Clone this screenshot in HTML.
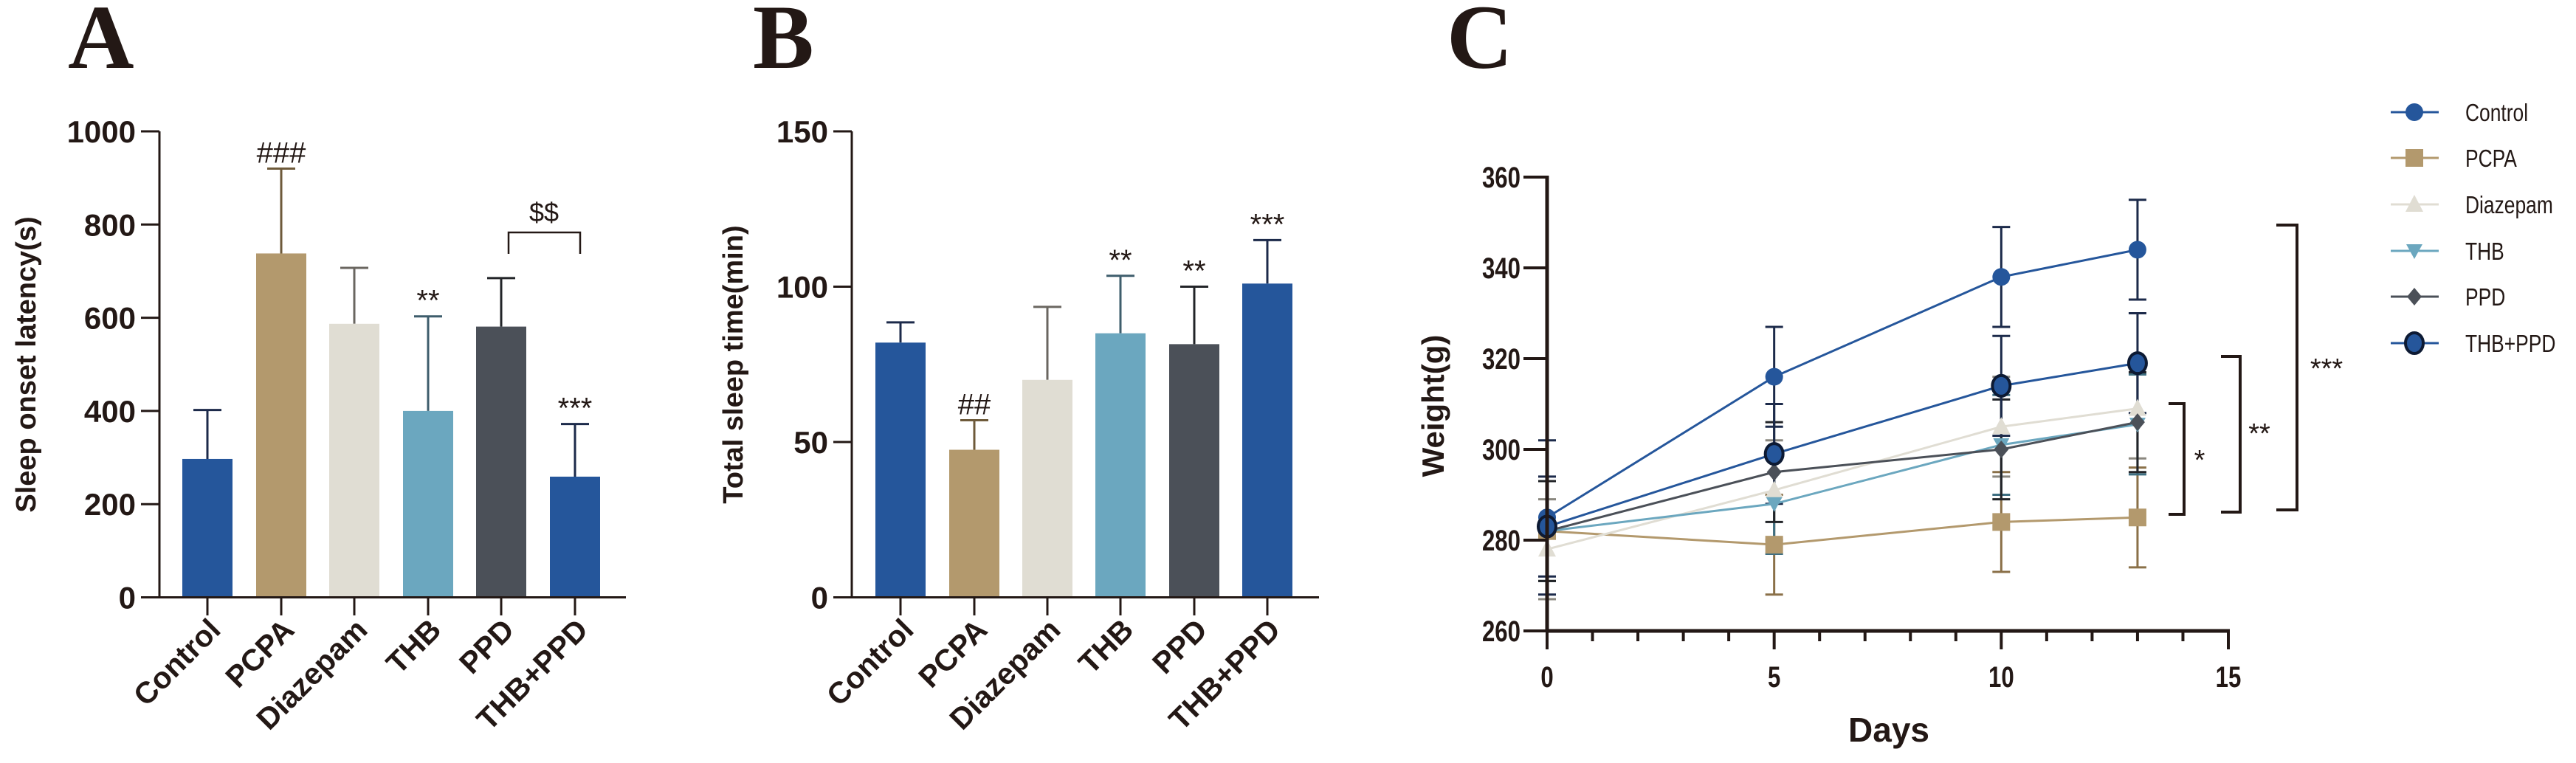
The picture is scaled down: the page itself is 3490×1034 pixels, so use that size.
<!DOCTYPE html>
<html><head><meta charset="utf-8"><style>
html,body{margin:0;padding:0;background:#fff}
svg{display:block;font-family:"Liberation Sans",Arial,sans-serif}
</style></head><body>
<svg id="fig" width="3490" height="1034" viewBox="0 0 3490 1034" xmlns="http://www.w3.org/2000/svg">
<g id="pA"></g>
<g id="pB"></g>
<g id="pC"></g>
</svg>
<script>
const groups = ["Control","PCPA","Diazepam","THB","PPD","THB+PPD"];
const colors = ["#25569b","#b3996d","#e0ddd3","#6ba7bf","#4b5058","#25569b"];
const errColors = ["#1c2a4a","#6e5a3a","#6a6660","#3e5d6c","#222428","#1c2a4a"];
const latencyVals = [297,738,587,400,581,259];
const latencyErr = [105,182,120,203,104,113];
const latencyTicks = [0,200,400,600,800,1000];
const latencyMarks = ["","###","","**","","***"];
const sleepVals = [82,47.5,70,85,81.5,101];
const sleepErr = [6.5,9.5,23.5,18.5,18.5,14];
const sleepTicks = [0,50,100,150];
const sleepMarks = ["","##","","**","**","***"];
const days = [0,5,10,13];
const dayTicks = [0,5,10,15];
const weightTicks = [260,280,300,320,340,360];
const seriesNames = ["Control","PCPA","Diazepam","THB","PPD","THB+PPD"];
const wControl = [285,316,338,344];
const wPCPA = [282,279,284,285];
const wDiazepam = [278,291,305,309];
const wTHB = [282,288,301,305.5];
const wPPD = [282,295,300,306];
const wCombo = [283,299,314,319];
const eControl = [17,11,11,11];
const ePCPA = [11,11,11,11];
const eDiazepam = [11,11,11,11];
const eTHB = [11,11,11,11];
const ePPD = [11,11,11,11];
const eCombo = [11,11,11,11];

const NS="http://www.w3.org/2000/svg";
function mk(parent,tag,attrs,text){const e=document.createElementNS(NS,tag);for(const k in attrs)e.setAttribute(k,attrs[k]);if(text!==undefined)e.textContent=text;parent.appendChild(e);return e;}

function barPanel(g,letter,lx,ax,xEnd,centers,vals,errs,ticks,marks,ymax,ylabel,ylx){
  const y0=809.5,yTop=178;
  const sy=v=>y0-(v/ymax)*(y0-yTop);
  let t=mk(g,"text",{x:lx,y:92,"font-family":"Liberation Serif,serif","font-weight":"bold","font-size":"124",fill:"#231815"},letter);
  
  
  vals.forEach((v,i)=>{
    const cx=centers[i];
    let el=mk(g,"line",{x1:cx,x2:cx,y1:sy(v),y2:sy(v+errs[i]),stroke:errColors[i],"stroke-width":3});
    
    
    mk(g,"line",{x1:cx-19,x2:cx+19,y1:sy(v+errs[i]),y2:sy(v+errs[i]),stroke:errColors[i],"stroke-width":3});
    let b=mk(g,"rect",{x:cx-34,y:sy(v),width:68,height:y0-sy(v),fill:colors[i]});
    
    
    if(marks[i]){let m=mk(g,"text",{x:cx,y:sy(v+errs[i])-8,"text-anchor":"middle","font-size":"40",fill:"#231815"},marks[i]);
      
      }
    mk(g,"line",{x1:cx,x2:cx,y1:y0,y2:834,stroke:"#231815","stroke-width":3});
    let lb=mk(g,"text",{x:0,y:0,"text-anchor":"end","font-weight":"bold","font-size":"41",fill:"#231815",transform:`translate(${cx+20},${856}) rotate(-45)`},groups[i]);
    
    
  });
  let ya=mk(g,"line",{x1:ax,x2:ax,y1:yTop,y2:y0+1.5,stroke:"#231815","stroke-width":3});
  
  
  let xa=mk(g,"line",{x1:ax-25,x2:xEnd,y1:y0,y2:y0,stroke:"#231815","stroke-width":3});
  
  
  ticks.forEach(v=>{
    mk(g,"line",{x1:ax-25,x2:ax,y1:sy(v),y2:sy(v),stroke:"#231815","stroke-width":3});
    let tl=mk(g,"text",{x:ax-32,y:sy(v)+15,"text-anchor":"end","font-weight":"bold","font-size":"42",fill:"#231815"},String(v));
    
    
  });
  let yl=mk(g,"text",{x:0,y:0,"text-anchor":"middle","font-weight":"bold","font-size":"38",fill:"#231815",transform:`translate(${ylx},${494}) rotate(-90)`},ylabel);
  
  
  return sy;
}
const gA=document.getElementById('pA');
barPanel(gA,"A",92,216,848,[281,381,480,580,679,779],latencyVals,latencyErr,latencyTicks,latencyMarks,1000,"Sleep onset latency(s)",48);
let br=mk(gA,"path",{d:"M689,344 V315 H786 V344",fill:"none",stroke:"#231815","stroke-width":2.5});


let dl=mk(gA,"text",{x:737,y:300,"text-anchor":"middle","font-size":"36",fill:"#231815"},"$$");


const gB=document.getElementById('pB');
barPanel(gB,"B",1020,1154,1787,[1220,1320,1419,1518,1618,1717],sleepVals,sleepErr,sleepTicks,sleepMarks,150,"Total sleep time(min)",1006);

const gC=document.getElementById('pC');
const cx0=2096, cx15=3019, cy260=855, cy360=240;
const sx=d=>cx0+d/15*(cx15-cx0);
const sy=v=>cy260-(v-260)/100*(cy260-cy360);
let tC=mk(gC,"text",{x:1960,y:92,"font-family":"Liberation Serif,serif","font-weight":"bold","font-size":"124",fill:"#231815"},"C");


const sVals=[wControl,wPCPA,wDiazepam,wTHB,wPPD,wCombo];
const sErr=[eControl,ePCPA,eDiazepam,eTHB,ePPD,eCombo];
const sCol=["#25569b","#b3996d","#e0ddd3","#6ba7bf","#4b5058","#25569b"];
const sErrCol=["#1c2a4a","#8a7048","#8a877f","#3e6f82","#222428","#1c2a4a"];
const shapes=["circle","square","tri","tridown","diamond","ring"];
function marker(g,shape,x,y,c){
  let e;
  if(shape==="circle") e=mk(g,"circle",{cx:x,cy:y,r:12,fill:c});
  else if(shape==="square") e=mk(g,"rect",{x:x-12,y:y-12,width:24,height:24,fill:c});
  else if(shape==="tri") e=mk(g,"path",{d:`M${x},${y-13} L${x+12},${y+10} L${x-12},${y+10}Z`,fill:c});
  else if(shape==="tridown") e=mk(g,"path",{d:`M${x},${y+11} L${x+11},${y-9} L${x-11},${y-9}Z`,fill:c});
  else if(shape==="diamond") e=mk(g,"path",{d:`M${x},${y-12} L${x+10},${y} L${x},${y+12} L${x-10},${y}Z`,fill:c});
  else e=mk(g,"ellipse",{cx:x,cy:y,rx:12,ry:14,fill:c,stroke:"#0d1a33","stroke-width":4});
  return e;
}
sVals.forEach((vals,s)=>{
  vals.forEach((v,i)=>{
    const x=sx(days[i]);
    let eb=mk(gC,"line",{x1:x,x2:x,y1:sy(v-sErr[s][i]),y2:sy(v+sErr[s][i]),stroke:sErrCol[s],"stroke-width":3});
    
    
    mk(gC,"line",{x1:x-12,x2:x+12,y1:sy(v-sErr[s][i]),y2:sy(v-sErr[s][i]),stroke:sErrCol[s],"stroke-width":3});
    mk(gC,"line",{x1:x-12,x2:x+12,y1:sy(v+sErr[s][i]),y2:sy(v+sErr[s][i]),stroke:sErrCol[s],"stroke-width":3});
  });
});
sVals.forEach((vals,s)=>{
  let pl=mk(gC,"polyline",{points:vals.map((v,i)=>sx(days[i])+","+sy(v)).join(" "),fill:"none",stroke:sCol[s],"stroke-width":3});
  
  
  vals.forEach((v,i)=>{
    let m=marker(gC,shapes[s],sx(days[i]),sy(v),sCol[s]);
    
    
  });
});
let yaC=mk(gC,"line",{x1:cx0,x2:cx0,y1:cy360-2,y2:cy260+2,stroke:"#231815","stroke-width":5});


let xaC=mk(gC,"line",{x1:cx0,x2:cx15+2,y1:cy260,y2:cy260,stroke:"#231815","stroke-width":5});


for(let d=1;d<15;d++) if(d%5) mk(gC,"line",{x1:sx(d),x2:sx(d),y1:cy260,y2:869,stroke:"#231815","stroke-width":4});
dayTicks.forEach(d=>{
  mk(gC,"line",{x1:sx(d),x2:sx(d),y1:cy260,y2:880,stroke:"#231815","stroke-width":4});
  let tl=mk(gC,"text",{x:sx(d),y:931,"text-anchor":"middle","font-weight":"bold","font-size":"40",fill:"#231815",transform:`translate(${sx(d)*0.22},0) scale(0.78,1)`},String(d));
  
  
});
weightTicks.forEach(v=>{
  mk(gC,"line",{x1:2064,x2:cx0,y1:sy(v),y2:sy(v),stroke:"#231815","stroke-width":4});
  let tl=mk(gC,"text",{x:2060,y:sy(v)+14,"text-anchor":"end","font-weight":"bold","font-size":"40",fill:"#231815",transform:`translate(${2060*0.22},0) scale(0.78,1)`},String(v));
  
  
});
let xt=mk(gC,"text",{x:2559,y:1005,"text-anchor":"middle","font-weight":"bold","font-size":"46",fill:"#231815"},"Days");


let yt=mk(gC,"text",{x:0,y:0,"text-anchor":"middle","font-weight":"bold","font-size":"42",fill:"#231815",transform:"translate(1956,550) rotate(-90)"},"Weight(g)");


[[3084,3112,305,691,"***",3152,512],[3009,3035,483,694,"**",3061,600],[2938,2959,547,697,"*",2980,636]].forEach(b=>{
  let p=mk(gC,"path",{d:`M${b[0]},${b[2]} H${b[1]} V${b[3]} H${b[0]}`,fill:"none",stroke:"#231815","stroke-width":4});
  
  
  let t=mk(gC,"text",{x:b[5],y:b[6],"text-anchor":"middle","font-size":"38",fill:"#231815"},b[4]);
  
  
});
const legY=[152,214,277,340,402,465];
seriesNames.forEach((n,s)=>{
  const lg=mk(gC,"g",{});
  
  
  mk(lg,"line",{x1:3239,x2:3304,y1:legY[s],y2:legY[s],stroke:sCol[s],"stroke-width":3});
  marker(lg,shapes[s],3271,legY[s],sCol[s]);
  mk(lg,"text",{x:3340,y:legY[s]+12,"font-size":"33",fill:"#231815",transform:`translate(${3340*0.2},0) scale(0.8,1)`},n);
});
</script>
</body></html>
